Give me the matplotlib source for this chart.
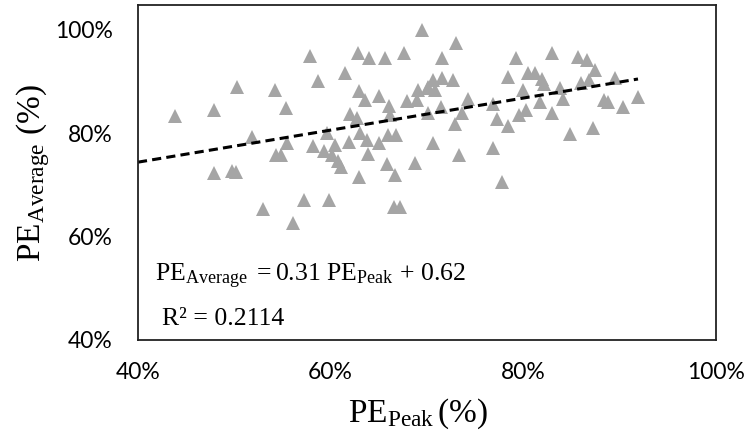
import numpy as np
import matplotlib
matplotlib.use("Agg")
import matplotlib.pyplot as plt
import matplotlib.ticker as ticker

# Peak vs average PE (fractions)
pe_peak = [
    0.438, 0.479, 0.503, 0.542, 0.554, 0.579, 0.587, 0.615, 0.628, 0.640,
    0.656, 0.676, 0.695, 0.629, 0.636, 0.650, 0.661, 0.679, 0.690, 0.691,
    0.701, 0.620, 0.627, 0.662, 0.630, 0.638, 0.660, 0.668, 0.650, 0.639,
    0.658, 0.688, 0.667, 0.629, 0.619, 0.605, 0.596, 0.593, 0.582, 0.601,
    0.608, 0.611, 0.555, 0.543, 0.548, 0.518, 0.479, 0.498, 0.502, 0.530,
    0.561, 0.572, 0.598, 0.666, 0.672, 0.706, 0.733, 0.769, 0.730, 0.716,
    0.792, 0.830, 0.857, 0.866, 0.874, 0.784, 0.805, 0.812, 0.819, 0.821,
    0.706, 0.716, 0.727, 0.701, 0.708, 0.800, 0.860, 0.868, 0.895, 0.838,
    0.841, 0.743, 0.769, 0.817, 0.884, 0.888, 0.903, 0.919, 0.715, 0.701,
    0.736, 0.803, 0.796, 0.830, 0.729, 0.773, 0.784, 0.848, 0.872, 0.778,
]
pe_average = [
    0.834, 0.845, 0.890, 0.884, 0.849, 0.950, 0.901, 0.917, 0.955, 0.946,
    0.946, 0.955, 1.000, 0.882, 0.864, 0.872, 0.853, 0.863, 0.864, 0.884,
    0.890, 0.837, 0.830, 0.835, 0.801, 0.787, 0.797, 0.797, 0.781, 0.760,
    0.741, 0.743, 0.719, 0.715, 0.783, 0.777, 0.801, 0.766, 0.775, 0.758,
    0.746, 0.735, 0.781, 0.758, 0.758, 0.793, 0.723, 0.727, 0.725, 0.654,
    0.626, 0.671, 0.671, 0.657, 0.657, 0.781, 0.758, 0.772, 0.975, 0.946,
    0.946, 0.955, 0.948, 0.942, 0.923, 0.909, 0.917, 0.917, 0.905, 0.895,
    0.903, 0.907, 0.903, 0.888, 0.884, 0.884, 0.897, 0.903, 0.907, 0.888,
    0.866, 0.866, 0.857, 0.861, 0.864, 0.861, 0.851, 0.870, 0.851, 0.839,
    0.839, 0.845, 0.835, 0.839, 0.818, 0.828, 0.814, 0.799, 0.810, 0.706,
]

# linear trend as printed on the chart
slope = 0.31
intercept = 0.62
r_squared = 0.2114

x_ticks = [0.4, 0.6, 0.8, 1.0]
y_ticks = [0.4, 0.6, 0.8, 1.0]

plt.rcParams['mathtext.fontset'] = 'custom'
plt.rcParams['mathtext.rm'] = 'Liberation Serif'
plt.rcParams['mathtext.it'] = 'Liberation Serif:italic'

fig = plt.figure(figsize=(7.49, 4.40), dpi=100)
ax = fig.add_axes([0.1842, 0.2273, 0.7718, 0.7613])

ax.plot(pe_peak, pe_average, linestyle='none', marker='^', markersize=10.5,
        color='#A5A5A5', markeredgewidth=0)

# trendline over the data range
x_line = np.array([0.40, max(pe_peak)])
ax.plot(x_line, slope * x_line + intercept, color='black', linewidth=2.2,
        linestyle=(0, (3.0, 1.7)))

ax.set_xlim(0.4, 1.0)
ax.set_ylim(0.4, 1.048)
ax.set_xticks(x_ticks)
ax.set_yticks(y_ticks)
ax.xaxis.set_major_formatter(ticker.PercentFormatter(1.0, decimals=0))
ax.yaxis.set_major_formatter(ticker.PercentFormatter(1.0, decimals=0))
ax.tick_params(length=0, labelsize=16.5, colors='black')
ax.tick_params(axis='x', pad=16)
ax.tick_params(axis='y', pad=18)
for lbl in ax.get_xticklabels() + ax.get_yticklabels():
    lbl.set_fontfamily('Lato')

for sp in ax.spines.values():
    sp.set_linewidth(1.3)
    sp.set_color('#222222')

ax.set_xlabel(r'$\mathrm{PE}_{\mathrm{Peak}}\,$(%)', fontsize=24,
              fontfamily='Liberation Serif')
ax.xaxis.set_label_coords(0.485, -0.17)
ax.set_ylabel(r'$\mathrm{PE}_{\mathrm{Average}}$ (%)', fontsize=24,
              fontfamily='Liberation Serif')
ax.yaxis.set_label_coords(-0.148, 0.5)

ax.text(0.03, 0.175, r'$\mathrm{PE}_{\mathrm{Average}}\ = 0.31\ \mathrm{PE}_{\mathrm{Peak}}\, +\, 0.62$',
        transform=ax.transAxes, fontsize=18.5, fontfamily='Liberation Serif')
ax.text(0.042, 0.045, f'R\u00b2 = {r_squared}', transform=ax.transAxes,
        fontsize=18.5, fontfamily='Liberation Serif')

fig.savefig('out.png', dpi=100)
